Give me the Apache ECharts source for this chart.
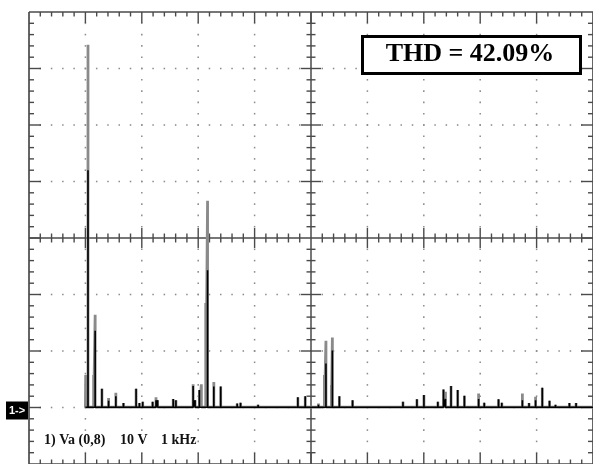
<!DOCTYPE html>
<html>
<head>
<meta charset="utf-8">
<script src="https://cdn.jsdelivr.net/npm/echarts/dist/echarts.min.js"></script>
<style>
  html, body { margin: 0; padding: 0; background: #fff; }
  #chart { width: 593px; height: 464px; }
</style>
</head>
<body>
<div id="chart"></div>
<script>
// FFT of phase voltage Va: 1 kHz per division, 10 V per division.
const freqTicks = [0, 1, 2, 3, 4, 5, 6, 7, 8, 9, 10];          // kHz
const voltTicks = [-10, 0, 10, 20, 30, 40, 50, 60, 70];         // V
const minorPerDiv = 5;

// Spectral lines: frequency (kHz), current sweep (V), max-hold (V)
const peakFreq = [1.005, 1.046, 1.146, 1.173, 1.293, 1.411, 1.540, 1.675, 1.899, 1.958,
                  2.016, 2.192, 2.252, 2.280, 2.557, 2.605, 2.910, 2.945, 3.021, 3.056,
                  3.134, 3.166, 3.277, 3.399, 3.691, 3.751, 4.004, 4.062, 4.397, 4.767,
                  4.898, 5.132, 5.238, 5.265, 5.362, 5.379, 5.503, 5.737, 5.855, 6.220,
                  6.631, 6.878, 7.002, 7.120, 7.249, 7.349, 7.384, 7.483, 7.601, 7.720,
                  7.836, 7.972, 8.072, 8.206, 8.325, 8.383, 8.443, 8.748, 8.866, 8.982,
                  9.101, 9.229, 9.335, 9.423, 9.582, 9.700, 9.806];
const peakNow  = [0, 42.0, 0, 13.6, 3.3, 1.2, 2.0, 0.8, 3.3, 0.8,
                  1.0, 1.0, 1.3, 1.3, 1.5, 1.3, 3.8, 1.3, 3.1, 0,
                  0, 24.3, 3.7, 3.7, 0.7, 0.85, 0.4, 0.5, 0.3, 1.8,
                  2.0, 0.5, 0, 7.8, 0, 10.1, 2.0, 1.3, 0.4, 0.4,
                  1.0, 1.45, 2.2, 0.4, 1.0, 3.2, 1.5, 3.8, 3.1, 2.1,
                  0.4, 1.5, 0.85, 0.3, 1.45, 0.85, 0.4, 1.3, 0.8, 1.3,
                  3.5, 1.2, 0.5, 0.4, 0.8, 0.8, 0.4];
const peakMax  = [5.75, 64.2, 5.75, 16.4, 3.3, 1.7, 2.6, 0.8, 3.3, 0.8,
                  1.0, 1.0, 1.8, 1.3, 1.5, 1.3, 4.1, 1.3, 3.1, 4.1,
                  18.5, 36.6, 4.5, 3.7, 0.7, 0.85, 0.4, 0.5, 0.3, 1.8,
                  2.0, 0.7, 5.75, 11.8, 4.0, 12.4, 2.0, 1.3, 0.4, 0.4,
                  1.0, 1.45, 2.2, 0.4, 1.0, 3.2, 2.8, 3.8, 3.1, 2.1,
                  0.4, 2.5, 0.85, 0.3, 1.45, 0.85, 0.4, 2.5, 0.8, 1.9,
                  3.5, 1.2, 0.5, 0.4, 0.8, 0.8, 0.4];

const traceStart = 1.0;   // kHz, first displayed bin
const traceEnd = 10.2;    // kHz
const noiseFloor = 0.05;  // V

const channelTag = '1->';
const captionParts = ['1) Va (0,8)', '10 V', '1 kHz'];
const thdText = 'THD = 42.09%';

// Build a trace that rises to each spectral line and drops back to the floor
function buildTrace(amps) {
  const pts = [[traceStart, noiseFloor]];
  peakFreq.forEach((f, i) => {
    if (amps[i] > noiseFloor) {
      pts.push([f, noiseFloor], [f, amps[i]], [f, noiseFloor]);
    }
  });
  pts.push([traceEnd, noiseFloor]);
  return pts;
}

const INK = '#4a4a4a';
const DOT = '#8c8c8c';

function renderGraticule(params, api) {
  const children = [];
  const P = (f, v) => api.coord([f, v]);
  const fFirst = freqTicks[0], fLast = freqTicks[freqTicks.length - 1];
  const vFirst = voltTicks[0], vLast = voltTicks[voltTicks.length - 1];
  const fMid = freqTicks[Math.floor(freqTicks.length / 2)];
  const vMid = voltTicks[Math.floor(voltTicks.length / 2)];
  const xL = P(fFirst, 0)[0], xR = P(fLast, 0)[0];
  const yT = P(0, vLast)[1], yB = P(0, vFirst)[1];
  const cx = P(fMid, 0)[0], cy = P(0, vMid)[1];

  const seg = (xa, ya, xb, yb, w) => children.push({
    type: 'line', shape: { x1: xa, y1: ya, x2: xb, y2: yb },
    style: { stroke: INK, lineWidth: w || 1.3 }
  });
  const dot = (x, y) => children.push({
    type: 'rect', shape: { x: x - 0.75, y: y - 0.8, width: 1.5, height: 1.6 },
    style: { fill: DOT }
  });

  const fDiv = freqTicks[1] - freqTicks[0];
  const vDiv = voltTicks[1] - voltTicks[0];
  const fSteps = (freqTicks.length - 1) * minorPerDiv;
  const vSteps = (voltTicks.length - 1) * minorPerDiv;

  // dotted grid along major lines
  freqTicks.forEach(f => {
    if (f === fFirst || f === fLast || f === fMid) return;
    for (let k = 1; k < vSteps; k++) {
      const v = vFirst + k * vDiv / minorPerDiv;
      const p = P(f, v);
      dot(p[0], p[1]);
    }
  });
  voltTicks.forEach(v => {
    if (v === vFirst || v === vLast || v === vMid) return;
    for (let k = 1; k < fSteps; k++) {
      const f = fFirst + k * fDiv / minorPerDiv;
      const p = P(f, v);
      dot(p[0], p[1]);
    }
  });

  // frame
  seg(xL, yT, xR, yT, 1.7);
  seg(xL, yB, xR, yB, 1.7);
  seg(xL, yT, xL, yB, 1.7);
  seg(xR, yT, xR, yB, 1.7);
  // centre cross
  seg(xL, cy, xR, cy, 1.5);
  seg(cx, yT, cx, yB, 1.5);

  // ticks along horizontal edges and centre line
  for (let k = 1; k < fSteps; k++) {
    const x = P(fFirst + k * fDiv / minorPerDiv, 0)[0];
    const major = k % minorPerDiv === 0;
    const edgeLen = major ? 11 : 4.5;
    seg(x, yT, x, yT + edgeLen, 1.4);
    seg(x, yB, x, yB - edgeLen, 1.4);
    if (Math.abs(x - cx) > 1) {
      const c = major ? 10 : 4.5;
      seg(x, cy - c, x, cy + c, 1.4);
    }
  }
  // ticks along vertical edges and centre line
  for (let k = 1; k < vSteps; k++) {
    const y = P(0, vFirst + k * vDiv / minorPerDiv)[1];
    const major = k % minorPerDiv === 0;
    const edgeLen = major ? 12 : 5;
    seg(xL, y, xL + edgeLen, y, 1.4);
    seg(xR, y, xR - edgeLen, y, 1.4);
    if (Math.abs(y - cy) > 1) {
      const c = major ? 10 : 4.5;
      seg(cx - c, y, cx + c, y, 1.4);
    }
  }

  // channel reference marker at 0 V
  const y0 = P(0, 0)[1];
  children.push({
    type: 'rect', shape: { x: xL - 23, y: y0 - 6, width: 22, height: 18 },
    style: { fill: '#000' }
  });
  children.push({
    type: 'text', x: xL - 12, y: y0 + 3,
    style: {
      text: channelTag, fill: '#fff', align: 'center', verticalAlign: 'middle',
      font: 'bold 11px "Liberation Sans", Arial, sans-serif'
    }
  });

  return { type: 'group', children };
}

const chart = echarts.init(document.getElementById('chart'), null, { renderer: 'canvas' });

const captionFont = 'bold 14px "Liberation Serif", "Times New Roman", serif';
const captionX = [44, 120, 161];

chart.setOption({
  backgroundColor: '#ffffff',
  animation: false,
  grid: { left: 29, top: 12, width: 567, height: 452 },
  xAxis: { type: 'value', min: freqTicks[0], max: freqTicks[freqTicks.length - 1], show: false },
  yAxis: { type: 'value', min: voltTicks[0], max: voltTicks[voltTicks.length - 1], show: false },
  series: [
    {
      type: 'custom',
      name: 'graticule',
      coordinateSystem: 'cartesian2d',
      renderItem: renderGraticule,
      data: [[0, 0]],
      silent: true,
      clip: false,
      z: 1
    },
    {
      type: 'line',
      name: 'max hold',
      data: buildTrace(peakMax),
      symbol: 'none',
      clip: true,
      lineStyle: { color: '#8a8a8a', width: 2.8, join: 'bevel' },
      z: 2
    },
    {
      type: 'line',
      name: 'Va',
      data: buildTrace(peakNow),
      symbol: 'none',
      clip: true,
      lineStyle: { color: '#000000', width: 1.6, join: 'bevel' },
      z: 3
    }
  ],
  graphic: captionParts.map((t, i) => ({
    type: 'text', x: captionX[i], y: 440, z: 10,
    style: { text: t, fill: '#111', verticalAlign: 'middle', font: captionFont }
  })).concat([
    {
      type: 'rect', left: 361, top: 35, z: 10,
      shape: { width: 218, height: 37 },
      style: { fill: '#fff', stroke: '#000', lineWidth: 3 }
    },
    {
      type: 'text', z: 11, x: 470, y: 54.5,
      style: {
        text: thdText, fill: '#000', align: 'center', verticalAlign: 'middle',
        font: 'bold 26px "Liberation Serif", "Times New Roman", serif'
      }
    }
  ])
});
</script>
</body>
</html>
